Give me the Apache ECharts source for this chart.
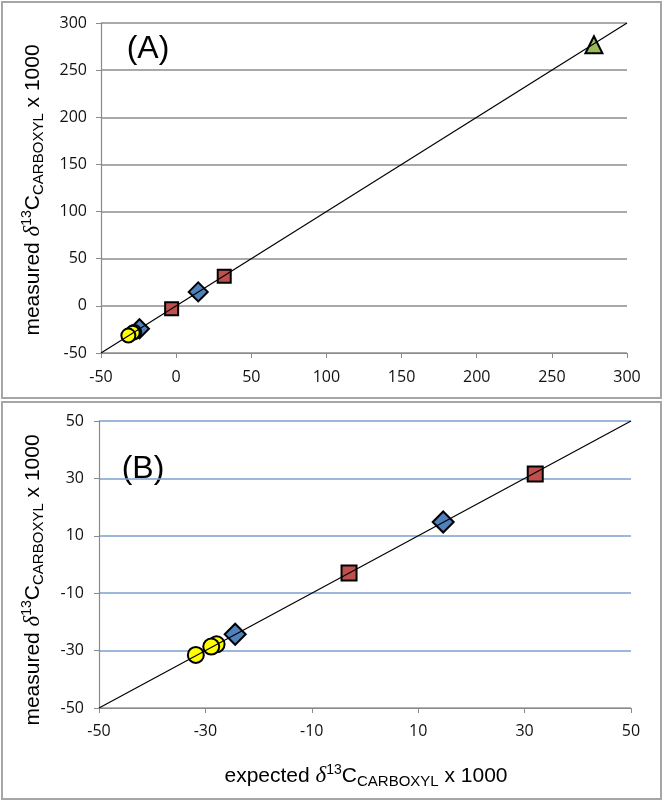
<!DOCTYPE html>
<html>
<head>
<meta charset="utf-8">
<script src="https://cdn.jsdelivr.net/npm/echarts@6/dist/echarts.min.js"></script>
<style>
html,body{margin:0;padding:0;background:#fff;}
#c{width:664px;height:801px;}
</style>
</head>
<body>
<div id="c"></div>
<script>
// ---- data ----
var squaresX = [-3, 32];
var squaresY = [-3, 31.5];
var diamondsX = [-24.4, 14.7];
var diamondsY = [-24.3, 14.8];
var circlesX = [-27.9, -28.9, -31.8];
var circlesY = [-27.8, -28.6, -31.5];
var triangleX = [278];
var triangleY = [277];
var lineA = [-50, 300];
var lineB = [-50, 50];
var ticksA = [-50, 0, 50, 100, 150, 200, 250, 300];
var ticksB = [-50, -30, -10, 10, 30, 50];

function pairs(xs, ys) { return xs.map(function (x, i) { return [x, ys[i]]; }); }

var chart = echarts.init(document.getElementById('c'), null, {renderer: 'canvas'});
var tickFont = {fontFamily: 'Open Sans', fontSize: 16, color: '#111'};
var axisGray = '#8a8a8a';

function mkX(idx, min, max, interval, margin) {
  return {
    gridIndex: idx, type: 'value', min: min, max: max, interval: interval,
    axisLine: {show: true, onZero: false, lineStyle: {color: axisGray, width: 1.2}},
    axisTick: {show: true, length: 5, lineStyle: {color: axisGray}},
    axisLabel: Object.assign({margin: margin}, tickFont),
    splitLine: {show: false}
  };
}
function mkY(idx, min, max, interval, gridColor, margin) {
  return {
    gridIndex: idx, type: 'value', min: min, max: max, interval: interval,
    axisLine: {show: true, onZero: false, lineStyle: {color: axisGray, width: 1.2}},
    axisTick: {show: true, length: 5, lineStyle: {color: axisGray}},
    axisLabel: Object.assign({margin: margin}, tickFont),
    splitLine: {show: true, lineStyle: {color: gridColor, width: 1.5}}
  };
}

var mk = {borderColor: '#000', borderWidth: 2};
function scatter(xi, data, symbol, size, color, z) {
  return {
    type: 'scatter', xAxisIndex: xi, yAxisIndex: xi, data: data,
    symbol: symbol, symbolSize: size, z: z || 2,
    itemStyle: Object.assign({color: color, opacity: 1}, mk),
    emphasis: {disabled: true}, silent: true
  };
}

var richT = {
  a: {fontFamily: 'Liberation Sans', fontSize: 21, lineHeight: 26, fill: '#000'},
  d: {fontFamily: 'Liberation Serif', fontStyle: 'italic', fontSize: 23, lineHeight: 26, fill: '#000'},
  s: {fontFamily: 'Liberation Sans', fontSize: 14, lineHeight: 14, verticalAlign: 'top', fill: '#000'},
  b: {fontFamily: 'Liberation Sans', fontSize: 15, lineHeight: 15, verticalAlign: 'bottom', fill: '#000'}
};
function titleText(prefix) {
  return '{a|' + prefix + ' }{d|δ}{s|13}{a|C}{b|CARBOXYL}{a| x 1000}';
}

var option = {
  animation: false,
  backgroundColor: '#fff',
  grid: [
    {left: 101, top: 23, width: 526, height: 330},
    {left: 99, top: 421, width: 532, height: 287}
  ],
  xAxis: [mkX(0, -50, 300, 50, 16), mkX(1, -50, 50, 20, 15)],
  yAxis: [mkY(0, -50, 300, 50, '#8c8c8c', 14), mkY(1, -50, 50, 20, '#7b9fcf', 15)],
  series: [
    scatter(0, pairs(squaresX, squaresY), 'rect', 13, '#c0504d'),
    scatter(0, pairs(diamondsX, diamondsY), 'diamond', 19, '#4f81bd'),
    scatter(0, pairs(circlesX, circlesY), 'circle', 14, '#ffff00'),
    scatter(0, pairs(triangleX, triangleY), 'triangle', [17, 17], '#9bbb59'),
    {type: 'line', xAxisIndex: 0, yAxisIndex: 0, data: pairs(lineA, lineA), showSymbol: false, symbol: 'none',
     lineStyle: {color: '#000', width: 1.2}, z: 5, silent: true},
    scatter(1, pairs(squaresX, squaresY), 'rect', 15, '#c0504d'),
    scatter(1, pairs(diamondsX, diamondsY), 'diamond', 21, '#4f81bd'),
    scatter(1, pairs(circlesX, circlesY), 'circle', 16, '#ffff00'),
    {type: 'line', xAxisIndex: 1, yAxisIndex: 1, data: pairs(lineB, lineB), showSymbol: false, symbol: 'none',
     lineStyle: {color: '#000', width: 1.2}, z: 5, silent: true}
  ],
  graphic: [
    {type: 'rect', shape: {x: 2, y: 2, width: 659, height: 396}, style: {fill: 'none', stroke: '#a6a6a6', lineWidth: 2}, z: -1},
    {type: 'rect', shape: {x: 2, y: 402, width: 659, height: 397}, style: {fill: 'none', stroke: '#a6a6a6', lineWidth: 2}, z: -1},
    {type: 'text', x: 148, y: 49, style: {text: '(A)', font: '32px "Liberation Sans"', fill: '#000', align: 'center', verticalAlign: 'middle'}},
    {type: 'text', x: 143, y: 469, style: {text: '(B)', font: '32px "Liberation Sans"', fill: '#000', align: 'center', verticalAlign: 'middle'}},
    {type: 'text', x: 33, y: 190, rotation: Math.PI / 2,
     style: {text: titleText('measured'), rich: richT, align: 'center', verticalAlign: 'middle'}},
    {type: 'text', x: 33, y: 580, rotation: Math.PI / 2,
     style: {text: titleText('measured'), rich: richT, align: 'center', verticalAlign: 'middle'}},
    {type: 'text', x: 366, y: 776,
     style: {text: titleText('expected'), rich: richT, align: 'center', verticalAlign: 'middle'}}
  ]
};
chart.setOption(option);
</script>
</body>
</html>
